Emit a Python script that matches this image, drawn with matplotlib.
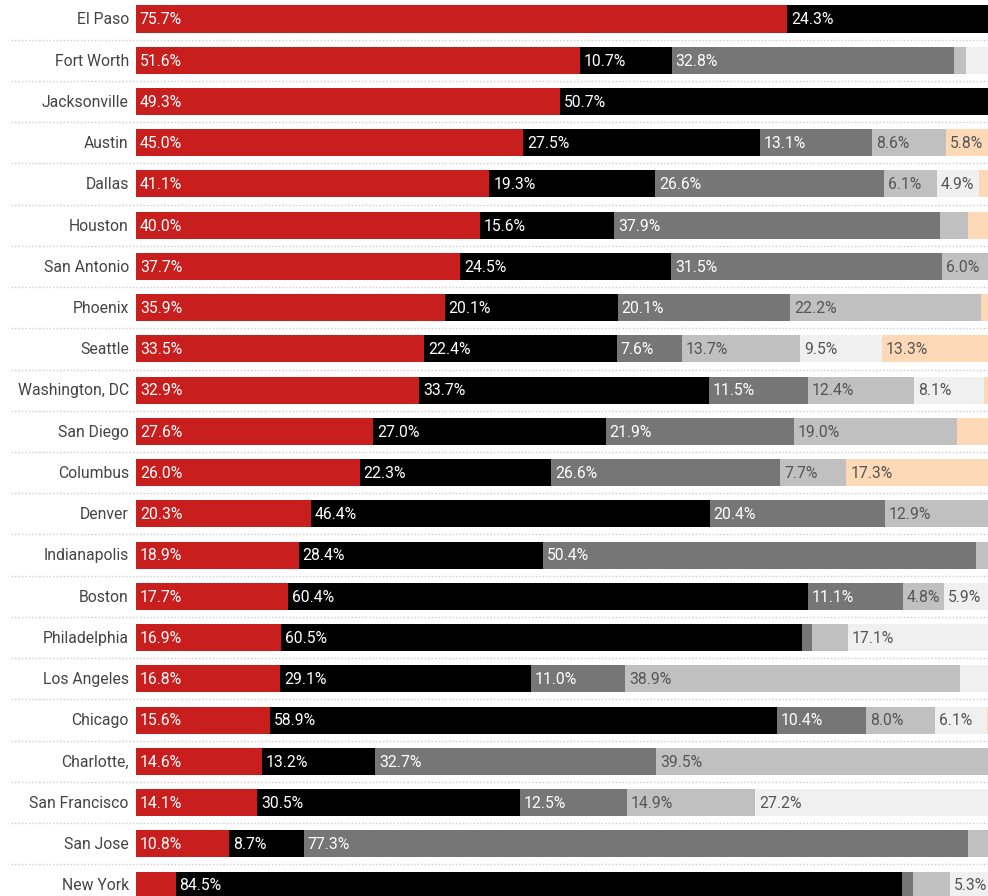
import matplotlib.pyplot as plt
import numpy as np

plt.rcParams["font.family"] = ["Roboto", "DejaVu Sans"]

cities = [
    "El Paso", "Fort Worth", "Jacksonville", "Austin", "Dallas", "Houston",
    "San Antonio", "Phoenix", "Seattle", "Washington, DC", "San Diego",
    "Columbus", "Denver", "Indianapolis", "Boston", "Philadelphia",
    "Los Angeles", "Chicago", "Charlotte,", "San Francisco", "San Jose",
    "New York",
]

# shares per city, one list per segment (left to right)
red = [75.7, 51.6, 49.3, 45.0, 41.1, 40.0, 37.7, 35.9, 33.5, 32.9, 27.6,
       26.0, 20.3, 18.9, 17.7, 16.9, 16.8, 15.6, 14.6, 14.1, 10.8, 4.6]
black = [24.3, 10.7, 50.7, 27.5, 19.3, 15.6, 24.5, 20.1, 22.4, 33.7, 27.0,
         22.3, 46.4, 28.4, 60.4, 60.5, 29.1, 58.9, 13.2, 30.5, 8.7, 84.5]
dark_gray = [0.0, 32.8, 0.0, 13.1, 26.6, 37.9, 31.5, 20.1, 7.6, 11.5, 21.9,
             26.6, 20.4, 50.4, 11.1, 1.2, 11.0, 10.4, 32.7, 12.5, 77.3, 1.3]
light_gray = [0.0, 1.4, 0.0, 8.6, 6.1, 3.2, 6.0, 22.2, 13.7, 12.4, 19.0,
              7.7, 12.9, 2.3, 4.8, 4.2, 38.9, 8.0, 39.5, 14.9, 3.2, 4.2]
pale_gray = [0.0, 3.5, 0.0, 0.0, 4.9, 0.0, 0.3, 0.0, 9.5, 8.1, 0.0,
             0.0, 0.0, 0.0, 5.9, 17.1, 4.2, 6.1, 0.0, 27.2, 0.0, 5.3]
peach = [0.0, 0.0, 0.0, 5.8, 2.0, 3.3, 0.0, 1.7, 13.3, 1.4, 4.5,
         17.3, 0.0, 0.0, 0.0, 0.0, 0.0, 1.0, 0.0, 1.0, 0.0, 0.0]

segments = [red, black, dark_gray, light_gray, pale_gray, peach]
colors = ["#c81e1e", "#000000", "#767676", "#c0c0c0", "#f0f0f0", "#fdd9b7"]
text_colors = ["white", "white", "white", "#555555", "#555555", "#555555"]

fig = plt.figure(figsize=(9.88, 8.96), dpi=100)
ax = fig.add_axes([136 / 988, 0, 852 / 988, 1])

y = np.arange(len(cities))
left = np.zeros(len(cities))
for vals, color, tcolor in zip(segments, colors, text_colors):
    vals = np.array(vals)
    ax.barh(y, vals, left=left, height=0.655, color=color, linewidth=0)
    for yi, (start, v) in enumerate(zip(left, vals)):
        if v >= 4.7:
            ax.text(start + 0.45, yi + 0.02, f"{v:.1f}%", color=tcolor,
                    fontsize=11.3, va="center", ha="left")
    left = left + vals

# dotted separators between rows, reaching under the city names
for yi in y[:-1]:
    ax.plot([-0.147, 1], [yi + 0.5, yi + 0.5], transform=ax.get_yaxis_transform(),
            color="#cccccc", linestyle=(0, (1, 1.5)), linewidth=1, clip_on=False)

for yi, name in enumerate(cities):
    ax.text(-0.0085, yi + 0.02, name, transform=ax.get_yaxis_transform(),
            ha="right", va="center", fontsize=11.3, color="#444444")

ax.set_xlim(0, 852 / 8.6)
ax.set_ylim((896 - 19) / 41.24, -19 / 41.24)
ax.axis("off")

fig.savefig("out.png", dpi=100)
